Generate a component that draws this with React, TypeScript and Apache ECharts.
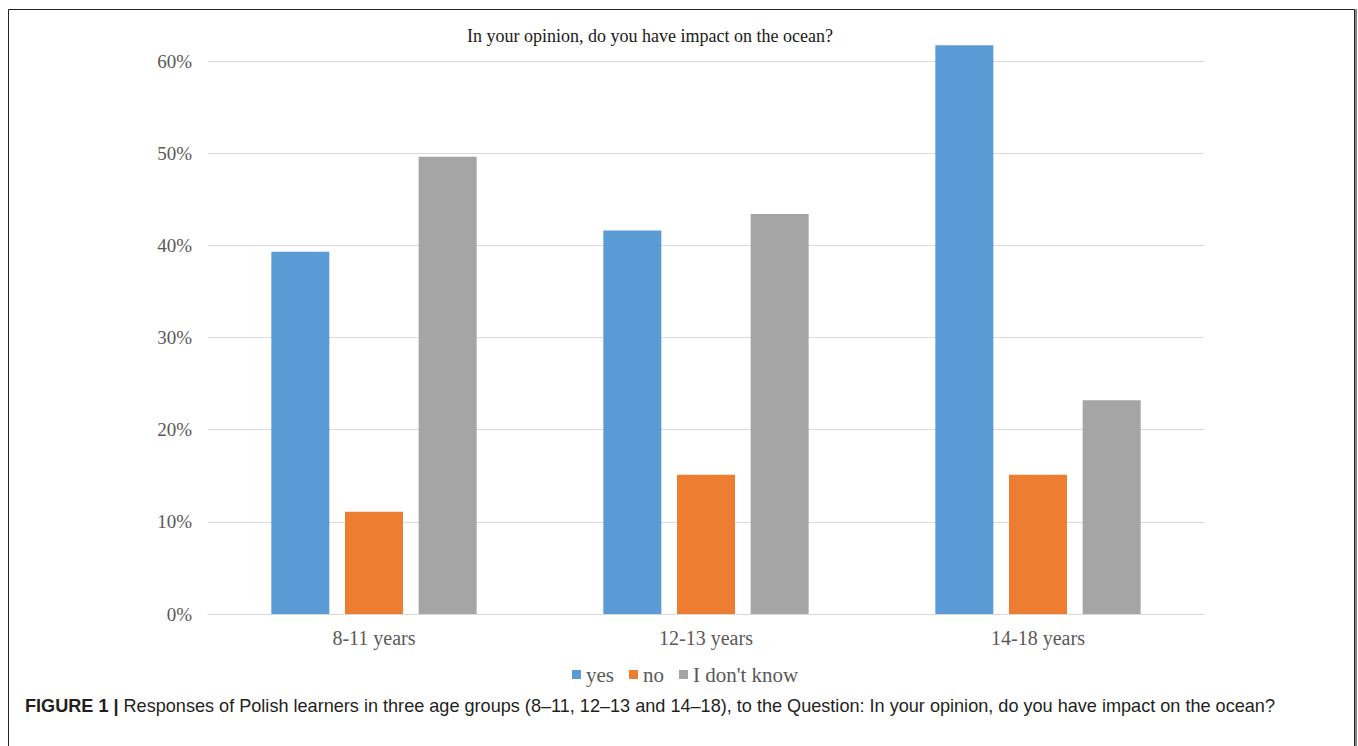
import React, { useEffect, useRef } from "react";
import * as echarts from "echarts";

const categories = ["8-11 years", "12-13 years", "14-18 years"];
const yesValues = [39.3, 41.6, 61.7];
const noValues = [11.1, 15.1, 15.1];
const dontKnowValues = [49.6, 43.4, 23.2];
const seriesNames = ["yes", "no", "I don't know"];
const yTicks = { min: 0, max: 60, interval: 10 };
const chartTitle = "In your opinion, do you have impact on the ocean?";
const captionBold = "FIGURE 1 | ";
const captionText =
  "Responses of Polish learners in three age groups (8–11, 12–13 and 14–18), to the Question: In your opinion, do you have impact on the ocean?";

export default function App() {
  const ref = useRef<HTMLDivElement>(null);
  useEffect(() => {
    document.body.style.margin = "0";
    if (!ref.current) return;
    const chart = echarts.init(ref.current, undefined, { renderer: "svg" });
    const serif = "'Liberation Serif', 'Times New Roman', serif";
    const labelColor = "#595959";
    const bar = (name: string, data: number[], color: string) => ({
      name,
      type: "bar",
      data,
      barWidth: 58,
      barGap: "27%",
      clip: false,
      itemStyle: { color },
    });
    chart.setOption({
      animation: false,
      backgroundColor: "#ffffff",
      grid: { left: 208, right: 154, top: 61, bottom: 132 },
      legend: {
        data: seriesNames,
        bottom: 56,
        left: 567,
        itemWidth: 9,
        itemHeight: 9,
        itemGap: 15,
        icon: "rect",
        textStyle: { fontFamily: serif, fontSize: 21, color: labelColor },
      },
      xAxis: {
        type: "category",
        data: categories,
        axisLine: { lineStyle: { color: "#d9d9d9", width: 1 } },
        axisTick: { show: false },
        axisLabel: { fontFamily: serif, fontSize: 20, color: labelColor, margin: 14 },
      },
      yAxis: {
        type: "value",
        min: yTicks.min,
        max: yTicks.max,
        interval: yTicks.interval,
        axisLine: { show: false },
        axisTick: { show: false },
        splitLine: { lineStyle: { color: "#d9d9d9", width: 1 } },
        axisLabel: {
          formatter: "{value}%",
          fontFamily: serif,
          fontSize: 19,
          color: labelColor,
          margin: 16,
        },
      },
      series: [
        bar(seriesNames[0], yesValues, "#5b9bd5"),
        bar(seriesNames[1], noValues, "#ed7d31"),
        bar(seriesNames[2], dontKnowValues, "#a5a5a5"),
      ],
      graphic: [
        {
          type: "rect",
          shape: { x: 8.5, y: 9.5, width: 1346, height: 760 },
          style: { fill: "none", stroke: "#222222", lineWidth: 1 },
          silent: true,
        },
        {
          type: "line",
          shape: { x1: 1356, y1: 9, x2: 1356, y2: 760 },
          style: { stroke: "#888888", lineWidth: 2 },
          silent: true,
        },
        {
          type: "text",
          x: 650,
          y: 36,
          style: {
            text: chartTitle,
            fontFamily: serif,
            fontSize: 18,
            fill: "#1a1a1a",
            textAlign: "center",
            textVerticalAlign: "middle",
          },
        },
        {
          type: "text",
          x: 25,
          y: 706,
          style: {
            text: "{b|" + captionBold + "}{n|" + captionText + "}",
            textVerticalAlign: "middle",
            rich: {
              b: { fontFamily: "'Liberation Sans', Arial, sans-serif", fontWeight: "bold", fontSize: 18.1, fill: "#231f20" },
              n: { fontFamily: "'Liberation Sans', Arial, sans-serif", fontSize: 18.1, fill: "#231f20" },
            },
          },
        },
      ],
    });
    return () => chart.dispose();
  }, []);
  return <div ref={ref} style={{ width: 1358, height: 746 }} />;
}
